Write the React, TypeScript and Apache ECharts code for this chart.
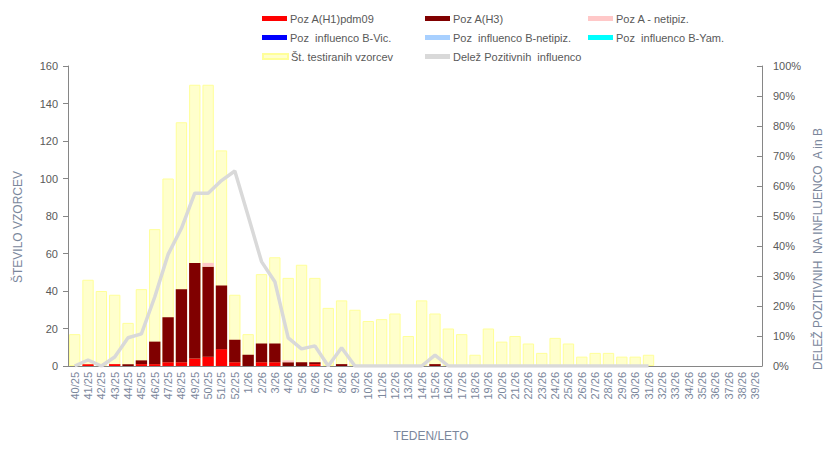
import React, { useEffect, useRef } from "react";
import * as echarts from "echarts";

const weeks: string[] = [
  "40/25","41/25","42/25","43/25","44/25","45/25","46/25","47/25","48/25","49/25","50/25","51/25","52/25",
  "1/26","2/26","3/26","4/26","5/26","6/26","7/26","8/26","9/26","10/26","11/26","12/26","13/26",
  "14/26","15/26","16/26","17/26","18/26","19/26","20/26","21/26","22/26","23/26","24/26","25/26","26/26",
  "27/26","28/26","29/26","30/26","31/26","32/26","33/26","34/26","35/26","36/26","37/26","38/26","39/26",
];

const tested: (number | null)[] = [
  17, 46, 40, 38, 23, 41, 73, 100, 130, 150, 150, 115, 38,
  17, 49, 58, 47, 54, 47, 31, 35, 30,
  24, 25, 28, 16, 35, 28, 20, 17, 6, 20, 13, 16, 12, 7, 15, 12, 5, 7, 7, 5, 5,
  6,
  null, null, null, null, null, null, null, null,
];

const h1pdm09: number[] = [
  0, 1, 0, 1, 0, 1, 1, 2, 2, 4, 5, 9, 2,
  0, 2, 2, 0, 0, 1, 0, 0, 0,
  0, 0, 0, 0, 0, 0, 0, 0, 0, 0, 0, 0, 0, 0, 0, 0, 0, 0, 0, 0, 0,
  0, 0, 0, 0, 0, 0, 0, 0, 0,
];

const h3: number[] = [
  0, 0, 0, 0, 1, 2, 12, 24, 39, 51, 48, 34, 12,
  6, 10, 10, 2, 2, 1, 0, 1, 0,
  0, 0, 0, 0, 0, 1, 0, 0, 0, 0, 0, 0, 0, 0, 0, 0, 0, 0, 0, 0, 0,
  0, 0, 0, 0, 0, 0, 0, 0, 0,
];

const aNetipiz: number[] = [
  0, 0, 0, 0, 0, 0, 0, 0, 0, 0, 2, 0, 0,
  0, 0, 0, 1, 0, 0, 0, 0, 0,
  0, 0, 0, 0, 0, 0, 0, 0, 0, 0, 0, 0, 0, 0, 0, 0, 0, 0, 0, 0, 0,
  0, 0, 0, 0, 0, 0, 0, 0, 0,
];

const bVic: number[] = [];
const bNetipiz: number[] = [];
const bYam: number[] = [];

const sharePositive: (number | null)[] = [
  0, 2, 0, 3, 9.4, 10.7, 23, 37.2, 45.9, 57.6, 57.6, 61.8, 65,
  50, 34.8, 28.1, 9.4, 5.7, 6.7, 0, 6.1, 0,
  0, 0, 0, 0, 0, 3.6, 0, 0, 0, 0, 0, 0, 0, 0, 0, 0, 0, 0, 0, 0, 0,
  0,
  null, null, null, null, null, null, null, null,
];

const leftTicks = { min: 0, max: 160, interval: 20 };
const rightTicks = { min: 0, max: 100, interval: 10 };

const FONT = "Liberation Sans, Arial, sans-serif";
const LABEL = "#595959";
const TITLE = "#7b879c";

export default function App() {
  const ref = useRef<HTMLDivElement>(null);

  useEffect(() => {
    if (!ref.current) return;
    const chart = echarts.init(ref.current, null, { renderer: "svg" });

    const names = {
      h1: "Poz A(H1)pdm09",
      h3: "Poz A(H3)",
      an: "Poz A - netipiz.",
      bv: "Poz  influenco B-Vic.",
      bn: "Poz  influenco B-netipiz.",
      by: "Poz  influenco B-Yam.",
      t: "Št. testiranih vzorcev",
      d: "Delež Pozitivnih  influenco",
    };

    const legendPos: [string, number, number][] = [
      [names.h1, 262, 13],
      [names.h3, 425, 13],
      [names.an, 588, 13],
      [names.bv, 262, 32],
      [names.bn, 425, 32],
      [names.by, 588, 32],
      [names.t, 262, 51],
      [names.d, 425, 51],
    ];

    const legends = legendPos.map(([n, l, t]) => ({
      data: [{ name: n, icon: "rect" }],
      left: l,
      top: t,
      itemWidth: 25,
      itemHeight: 5,
      padding: 0,
      selectedMode: false,
      textStyle: { fontFamily: FONT, fontSize: 11, color: LABEL, padding: [0, 0, 0, -2] },
    }));

    const stackBar = (name: string, data: number[], color: string) => ({
      name,
      type: "bar",
      stack: "pos",
      data,
      barGap: "-100%",
      barCategoryGap: "15%",
      itemStyle: { color },
      z: 3,
    });

    chart.setOption({
      animation: false,
      legend: legends,
      grid: { left: 68, right: 67, top: 66, bottom: 96 },
      xAxis: {
        type: "category",
        data: weeks,
        name: "TEDEN/LETO",
        nameLocation: "middle",
        nameGap: 64,
        nameTextStyle: { fontFamily: FONT, fontSize: 12, color: TITLE, padding: [0, 0, 0, 32] },
        axisLine: { lineStyle: { color: "#868686" } },
        axisTick: { lineStyle: { color: "#868686" }, length: 5 },
        axisLabel: {
          rotate: 90,
          interval: 0,
          fontFamily: FONT,
          fontSize: 11,
          color: TITLE,
          margin: 6,
        },
      },
      yAxis: [
        {
          type: "value",
          ...leftTicks,
          name: "ŠTEVILO VZORCEV",
          nameLocation: "middle",
          nameRotate: 90,
          nameGap: 44,
          nameTextStyle: { fontFamily: FONT, fontSize: 12, color: TITLE, padding: [0, 22, 0, 0] },
          axisLine: { show: true, lineStyle: { color: "#868686" } },
          axisTick: { show: true, length: 5, lineStyle: { color: "#868686" } },
          splitLine: { show: false },
          axisLabel: { fontFamily: FONT, fontSize: 11, color: LABEL, margin: 10 },
        },
        {
          type: "value",
          ...rightTicks,
          position: "right",
          name: "DELEŽ POZITIVNIH  NA INFLUENCO  A in B",
          nameLocation: "middle",
          nameRotate: 90,
          nameGap: 48,
          nameTextStyle: { fontFamily: FONT, fontSize: 12, color: TITLE, padding: [0, 66, 0, 0] },
          axisLine: { show: true, lineStyle: { color: "#868686" } },
          axisTick: { show: true, inside: true, length: 5, lineStyle: { color: "#868686" } },
          splitLine: { show: false },
          axisLabel: { fontFamily: FONT, fontSize: 11, color: LABEL, margin: 11, formatter: "{value}%" },
        },
      ],
      series: [
        {
          name: names.t,
          type: "bar",
          data: tested,
          barGap: "-100%",
          barCategoryGap: "15%",
          itemStyle: { color: "#ffffcc", borderColor: "#ffff99", borderWidth: 1 },
          z: 1,
        },
        stackBar(names.h1, h1pdm09, "#ff0000"),
        stackBar(names.h3, h3, "#800000"),
        stackBar(names.an, aNetipiz, "#ffc8c8"),
        stackBar(names.bv, bVic, "#0000ff"),
        stackBar(names.bn, bNetipiz, "#a8d0ff"),
        stackBar(names.by, bYam, "#00ffff"),
        {
          name: names.d,
          type: "line",
          yAxisIndex: 1,
          data: sharePositive,
          showSymbol: false,
          symbol: "none",
          lineStyle: { color: "#d9d9d9", width: 3.5 },
          itemStyle: { color: "#d9d9d9" },
          z: 5,
        },
      ],
    });

    return () => chart.dispose();
  }, []);

  return (
    <div
      ref={ref}
      style={{ position: "fixed", left: 0, top: 0, width: 832, height: 462, background: "#fff" }}
    />
  );
}
